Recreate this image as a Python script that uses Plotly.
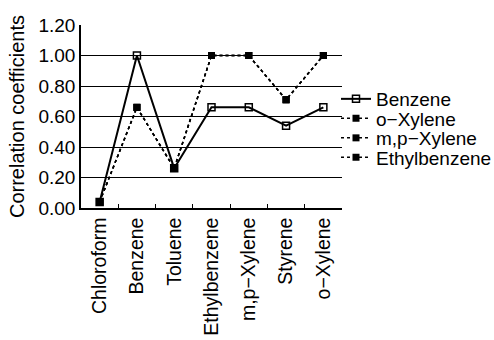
import plotly.graph_objects as go

# Compounds along the x axis
compounds = ["Chloroform", "Benzene", "Toluene", "Ethylbenzene",
             "m,p\u2212Xylene", "Styrene", "o\u2212Xylene"]

# Correlation coefficients for each reference compound
benzene = [0.04, 1.00, 0.26, 0.66, 0.66, 0.54, 0.66]
o_xylene = [0.04, 0.66, 0.26, 1.00, 1.00, 0.71, 1.00]
mp_xylene = [0.04, 0.66, 0.26, 1.00, 1.00, 0.71, 1.00]
ethylbenzene = [0.04, 0.66, 0.26, 1.00, 1.00, 0.71, 1.00]

series_names = ["Benzene", "o\u2212Xylene", "m,p\u2212Xylene", "Ethylbenzene"]
y_ticks = [0.0, 0.2, 0.4, 0.6, 0.8, 1.0, 1.2]

FONT = "Liberation Sans, Arial, Helvetica, sans-serif"

fig = go.Figure()

fig.add_trace(go.Scatter(
    x=compounds, y=benzene, name=series_names[0], mode="lines+markers",
    line=dict(color="black", width=2),
    marker=dict(symbol="square-open", size=7, color="black",
                line=dict(width=1.5, color="black")),
    legend="legend",
))

dotted = [(o_xylene, series_names[1], "legend2"),
          (mp_xylene, series_names[2], "legend3"),
          (ethylbenzene, series_names[3], "legend4")]
for vals, name, leg in dotted:
    fig.add_trace(go.Scatter(
        x=compounds, y=vals, name=name, mode="lines+markers",
        line=dict(color="black", width=1.5, dash="dot"),
        marker=dict(symbol="square", size=7, color="black"),
        legend=leg,
    ))

# Figure size and fixed plot-area margins (pixels)
W, H = 494, 340
ML, MR, MT, MB = 81, 152, 25, 132
pw = W - ML - MR
ph = H - MT - MB

def px_to_paper_x(px):
    return (px - ML) / pw

def px_to_paper_y(py):
    return (H - MB - py) / ph

# One single-entry legend per series so the rows can sit tightly together
legend_rows = [99, 118.5, 138, 157.5]
legend_common = dict(
    x=px_to_paper_x(336), xanchor="left", yanchor="middle",
    bgcolor="rgba(0,0,0,0)", borderwidth=0,
    font=dict(family=FONT, size=19, color="black"),
)

fig.update_layout(
    width=W, height=H,
    margin=dict(l=ML, r=MR, t=MT, b=MB, autoexpand=False),
    paper_bgcolor="white", plot_bgcolor="white",
    font=dict(family=FONT, size=19, color="black"),
    showlegend=True,
    legend=dict(y=px_to_paper_y(legend_rows[0]), **legend_common),
    legend2=dict(y=px_to_paper_y(legend_rows[1]), **legend_common),
    legend3=dict(y=px_to_paper_y(legend_rows[2]), **legend_common),
    legend4=dict(y=px_to_paper_y(legend_rows[3]), **legend_common),
    xaxis=dict(
        type="category", categoryorder="array", categoryarray=compounds,
        range=[-0.5, len(compounds) - 0.5], automargin=False,
        showline=True, linecolor="black", linewidth=1.5,
        ticks="inside", tickson="boundaries", ticklen=4, tickcolor="black",
        tickangle=-90, showgrid=False,
        tickfont=dict(family=FONT, size=19.5, color="black"),
    ),
    yaxis=dict(
        range=[0, 1.2], tickvals=y_ticks, tickformat=".2f", automargin=False,
        showline=True, linecolor="black", linewidth=1.5,
        showgrid=True, gridcolor="black", gridwidth=1.2,
        zeroline=False, ticks="",
        tickfont=dict(family=FONT, size=19, color="black"),
        title=dict(text="Correlation coefficients",
                   font=dict(family=FONT, size=20, color="black"),
                   standoff=8),
    ),
)

fig.write_html("out.html")
